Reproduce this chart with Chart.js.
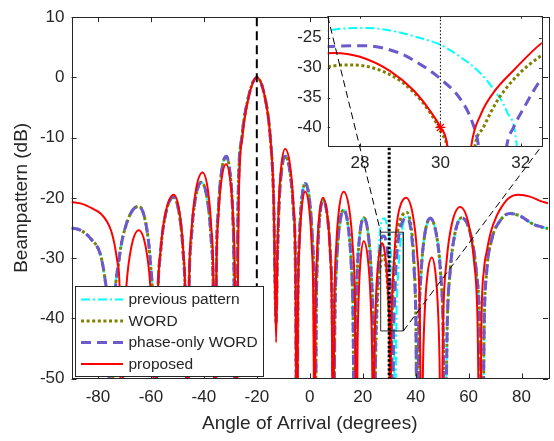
<!DOCTYPE html>
<html>
<head>
<meta charset="utf-8">
<script src="https://cdn.jsdelivr.net/npm/chart.js@4.4.1/dist/chart.umd.min.js"></script>
<style>
  html, body { margin: 0; padding: 0; background: #fff; }
  #wrap { position: relative; width: 554px; height: 441px; }
  #wrap canvas { position: absolute; left: 0; top: 0; }
</style>
</head>
<body>
<div id="wrap">
  <canvas id="mainChart" width="554" height="441"></canvas>
  <canvas id="insetChart" width="554" height="441"></canvas>
</div>
<script>
// ---- axis settings ----
const xTicks = [-80, -60, -40, -20, 0, 20, 40, 60, 80];
const yTicks = [10, 0, -10, -20, -30, -40, -50];
const insetXTicks = [28, 30, 32];
const insetYTicks = [-25, -30, -35, -40];
const insetAngRange = [27.196, 32.52];
const insetDbRange = [-43.1, -21.42];

const seriesLabels = ['previous pattern', 'WORD', 'phase-only WORD', 'proposed'];

// ---- proposed pattern (red) ----
const redAng = [
  -90, -86, -82, -79, -76.5, -75, -73.8, -72.6, -71.8, -71.2,
  -70.34, -69.22, -67.5, -64.6, -61.87, -60.26, -59.21, -58.4,
  -57.49, -56.3, -54.48, -51.4, -49.16, -47.83, -46.96, -46.3,
  -45.55, -44.56, -43.05, -40.5, -38.43, -37.21, -36.39, -35.8,
  -35.25, -34.54, -33.45, -31.6, -29.93, -28.94, -28.31, -27.8,
  -26.79, -25.46, -23.43, -20, -16.61, -14.89, -13.65, -12.7,
  -12.26, -11.68, -10.8, -9.3, -7.34, -6.19, -5.43, -4.85,
  -4.44, -3.905, -3.086, -1.7, -0.16, 0.75, 1.345, 1.8,
  2.22, 2.76, 3.59, 5.0, 6.67, 7.66, 8.31, 8.8,
  9.32, 10.0, 11.04, 12.8, 14.96, 16.23, 17.06, 17.7,
  18.05, 18.51, 19.21, 20.4, 21.98, 22.92, 23.53, 24.0,
  24.44, 25.02, 25.9, 27.35, 28.0, 28.75, 29.33, 29.75, 30.0, 30.17, 30.45,
  30.77, 31.0, 31.33, 31.83, 32.54, 33.3, 34.3, 35.3, 36.4, 39.0, 40.53, 41.53, 42.3,
  42.79, 43.44, 44.43, 46.1, 47.6, 48.48, 49.06, 49.5,
  50.45, 51.69, 53.59, 56.8, 60.1, 62.05, 63.33, 64.3,
  64.9, 65.8, 66.9, 68.5, 70.6, 72.5, 75.0, 78.8, 83.2, 87.0, 90
];
const redDb = [
  -20.7, -21.0, -21.8, -22.6, -24.0, -25.5, -27.6, -30.8, -35.5, -65,
  -43.4, -34.4, -28.4, -25.4, -28.4, -34.4, -43.4, -65,
  -37.5, -28.5, -22.5, -19.5, -22.5, -28.5, -37.5, -65,
  -33.8, -24.8, -18.8, -15.8, -18.8, -24.8, -33.8, -65,
  -32.4, -23.4, -17.4, -14.4, -17.4, -23.4, -32.4, -65,
  -20, -10, -4, 0, -4, -10, -20, -44,
  -29.9, -20.9, -14.9, -11.9, -14.9, -20.9, -29.9, -65,
  -37, -28, -22, -19, -22, -28, -37, -65,
  -38, -29, -23, -20, -23, -29, -38, -65,
  -37, -28, -22, -19, -22, -28, -37, -65,
  -45.2, -36.2, -30.2, -27.2, -30.2, -36.2, -45.2, -65,
  -45.6, -36.6, -30.6, -27.55, -28.2, -30.6, -33.8, -37.3, -40.0, -43, -65,
  -43, -37.9, -34.1, -30.4, -25.8, -23.0, -21.2, -20.3, -20.0, -23, -29, -38, -65,
  -47.9, -38.9, -32.9, -29.9, -32.9, -38.9, -47.9, -65,
  -39.5, -30.5, -24.5, -21.5, -24.5, -30.5, -39.5, -65,
  -40, -32, -28.8, -25.5, -23.0, -21.5, -20.1, -19.5, -19.8, -20.5, -20.9
];

// ---- the three earlier patterns share most lobes ----
const groupAngLeft = [
  -90, -86.5, -82.7, -78.9, -77.0, -76.0, -75.3,
  -73.91, -72.09, -69.31, -64.6, -61.87, -60.26, -59.21, -58.4,
  -57.5, -56.33, -54.54, -51.5, -49.21, -47.86, -46.98, -46.3,
  -45.6, -44.68, -43.28, -40.9, -38.66, -37.33, -36.46, -35.8,
  -35.25, -34.54, -33.45, -31.6, -30.06, -29.15, -28.65, -28.1,
  -27.05, -25.67, -23.56, -20, -16.61, -14.89, -13.65, -12.7,
  -12.26, -11.68, -10.8, -9.3, -7.34, -6.19, -5.43, -4.85,
  -4.44, -3.905, -3.086, -1.7, -0.03, 0.96, 1.61, 2.1,
  2.48, 2.97, 3.72, 5.0, 6.76, 7.8, 8.48, 9.0,
  9.49, 10.14, 11.13, 12.8, 14.6, 15.67, 16.37, 16.9,
  17.36, 17.95, 18.86, 20.4, 22.16, 23.2, 23.88, 24.4
];
const groupDbLeft = [
  -25.0, -25.4, -26.8, -29.7, -34.5, -40, -65,
  -39.4, -30.4, -24.4, -21.4, -24.4, -30.4, -39.4, -65,
  -37.9, -28.9, -22.9, -19.9, -22.9, -28.9, -37.9, -65,
  -35.4, -26.4, -20.4, -17.4, -20.4, -26.4, -35.4, -65,
  -31.1, -22.1, -16.1, -13.1, -16.1, -22.1, -31.1, -65,
  -20, -10, -4, 0, -4, -10, -20, -40.8,
  -31.1, -22.1, -16.1, -13.1, -16.1, -22.1, -31.1, -65,
  -35.6, -26.6, -20.6, -17.6, -20.6, -26.6, -35.6, -65,
  -38.4, -29.4, -23.4, -20.4, -23.4, -29.4, -38.4, -65,
  -40, -31, -25, -22, -25, -31, -40, -65,
  -41.3, -32.3, -26.3, -23.3, -26.3, -32.3, -41.3, -65
];
const groupAngRight = [
  40.6, 41.24, 42.07, 43.34, 45.5, 47.96, 49.42, 50.37, 51.1,
  51.93, 53.02, 54.68, 57.4, 60.88, 62.93, 64.27, 65.3,
  65.9, 66.8, 68.7, 71.9, 75.6, 79.4, 84.5, 90
];
const groupDbRight = [
  -65, -41.4, -32.4, -26.4, -23.4, -26.4, -32.4, -41.4, -65,
  -41.3, -32.3, -26.3, -23.3, -26.3, -32.3, -41.3, -65,
  -41, -32.5, -27.0, -23.8, -22.6, -23.0, -24.4, -25.1
];

// ---- where they differ (around the 30 degree null) ----
const prevAngMid = [24.89, 25.53, 26.51, 27.2, 28.17, 28.75, 29.33, 30.0, 30.49, 30.99, 31.32, 31.65, 31.9, 32.1,
  32.71, 33.51, 34.73, 36.8, 38.47, 39.46, 40.11];
const prevDbMid = [-41.4, -32.4, -25.8, -23.83, -23.4, -23.8, -24.75, -26.2, -28.2, -30.9, -33.6, -37.3, -43.1, -65,
  -40.9, -31.9, -25.9, -22.9, -25.9, -31.9, -40.9];

const wordAngMid = [24.85, 25.43, 26.32, 27.2, 27.83, 28.75, 29.33, 29.75, 30.04, 30.16, 30.5,
  30.86, 31.07, 31.4, 31.82, 32.52, 33.6, 35.0, 36.6, 38.47, 39.46, 40.11];
const wordDbMid = [-47.6, -38.6, -32.6, -29.9, -29.56, -31.2, -34.1, -37.6, -41.1, -43.1, -65,
  -43.1, -40, -35.7, -32, -27.96, -24.6, -22.9, -22.4, -25.4, -31.4, -40.4];

const phaseAngMid = [24.88, 25.5, 26.46, 27.2, 28.08, 28.91, 29.58, 30.0, 30.49, 30.78, 30.95, 31.3,
  31.65, 31.82, 32.07, 32.52, 33.5, 34.8, 36.8, 38.47, 39.46, 40.11];
const phaseDbMid = [-44.35, -35.35, -29.35, -26.5, -26.35, -27.4, -29.8, -31.9, -35.2, -38.9, -43.1, -65,
  -43.1, -40, -36.8, -31.9, -26.8, -24.2, -23.3, -26.3, -32.3, -41.3];

// ---- reference lines, zoom box, marker ----
const desiredAng = [-20];
const nullAng = [30];
const zoomBoxAng = [26.8, 35.35];
const zoomBoxDb = [-42.1, -25.7];
const markAng = [30];
const markDb = [-40];

const FONT = "'Liberation Sans', Arial, Helvetica, sans-serif";
const INK = '#262626';

const styles = [
  { color: '#00ffff', width: 2, dash: [9, 3, 2, 3] },
  { color: '#808000', width: 3, dash: [3, 2.6] },
  { color: '#6a5acd', width: 3, dash: [10, 6] },
  { color: '#ff0000', width: 2, dash: [] }
];

function toPoints(xs, ys) {
  return xs.map((x, i) => ({ x: x, y: ys[i] }));
}

const curveData = [
  toPoints(groupAngLeft.concat(prevAngMid, groupAngRight), groupDbLeft.concat(prevDbMid, groupDbRight)),
  toPoints(groupAngLeft.concat(wordAngMid, groupAngRight), groupDbLeft.concat(wordDbMid, groupDbRight)),
  toPoints(groupAngLeft.concat(phaseAngMid, groupAngRight), groupDbLeft.concat(phaseDbMid, groupDbRight)),
  toPoints(redAng, redDb)
];

function curveDatasets() {
  // first dataset in the list is drawn on top, so proposed goes first
  const out = [];
  for (let i = curveData.length - 1; i >= 0; i--) {
    out.push({
      label: seriesLabels[i],
      data: curveData[i],
      borderColor: styles[i].color,
      borderWidth: styles[i].width,
      borderDash: styles[i].dash,
      borderCapStyle: 'butt',
      cubicInterpolationMode: 'monotone',
      pointRadius: 0,
      fill: false
    });
  }
  return out;
}

function vline(x, range, dash, width) {
  return {
    data: [{ x: x, y: range[1] }, { x: x, y: range[0] }],
    borderColor: '#000', borderWidth: width, borderDash: dash,
    pointRadius: 0, tension: 0, fill: false
  };
}

// inward tick marks and box, MATLAB style
function frame(chart, xt, yt, len) {
  const { ctx, chartArea: a, scales } = chart;
  ctx.save();
  ctx.strokeStyle = INK;
  ctx.lineWidth = 1;
  ctx.setLineDash([]);
  ctx.beginPath();
  xt.forEach(v => {
    const px = Math.round(scales.x.getPixelForValue(v)) + 0.5;
    ctx.moveTo(px, a.bottom); ctx.lineTo(px, a.bottom - len);
    ctx.moveTo(px, a.top); ctx.lineTo(px, a.top + len);
  });
  yt.forEach(v => {
    const py = Math.round(scales.y.getPixelForValue(v)) + 0.5;
    ctx.moveTo(a.left, py); ctx.lineTo(a.left + len, py);
    ctx.moveTo(a.right, py); ctx.lineTo(a.right - len, py);
  });
  ctx.stroke();
  ctx.strokeRect(Math.round(a.left) + 0.5, Math.round(a.top) + 0.5,
    Math.round(a.right - a.left), Math.round(a.bottom - a.top));
  ctx.restore();
}

const mainFrame = {
  id: 'mainFrame',
  afterDatasetsDraw(chart) { frame(chart, xTicks, yTicks, 5); },
  afterDraw(chart) {
    // legend box
    const ctx = chart.ctx;
    ctx.save();
    ctx.fillStyle = '#fff';
    ctx.fillRect(75.5, 286.5, 188, 90);
    ctx.strokeStyle = INK;
    ctx.lineWidth = 1;
    ctx.strokeRect(75.5, 286.5, 188, 90);
    seriesLabels.forEach((lab, i) => {
      const y = 299.5 + i * 21.5;
      ctx.beginPath();
      ctx.setLineDash(styles[i].dash);
      ctx.lineWidth = styles[i].width;
      ctx.strokeStyle = styles[i].color;
      ctx.moveTo(81, y);
      ctx.lineTo(123, y);
      ctx.stroke();
      ctx.setLineDash([]);
      ctx.fillStyle = INK;
      ctx.font = '15.5px ' + FONT;
      ctx.textBaseline = 'middle';
      ctx.fillText(lab, 128.5, y + 0.5);
    });
    ctx.restore();
  }
};

const yRange = [yTicks[yTicks.length - 1], yTicks[0]];

const mainChart = new Chart(document.getElementById('mainChart'), {
  type: 'line',
  data: {
    datasets: [
      vline(desiredAng[0], yRange, [9, 5], 2),
      vline(nullAng[0], yRange, [2.5, 2], 3),
      {
        data: toPoints(
          [zoomBoxAng[0], zoomBoxAng[1], zoomBoxAng[1], zoomBoxAng[0], zoomBoxAng[0]],
          [zoomBoxDb[1], zoomBoxDb[1], zoomBoxDb[0], zoomBoxDb[0], zoomBoxDb[1]]),
        borderColor: INK, borderWidth: 1, pointRadius: 0, tension: 0, fill: false
      }
    ].concat(curveDatasets())
  },
  options: {
    responsive: false,
    animation: false,
    layout: { padding: { left: 0, right: 6, top: 6.5, bottom: 0 } },
    plugins: { legend: { display: false }, tooltip: { enabled: false } },
    scales: {
      x: {
        type: 'linear', min: -90, max: 90,
        afterBuildTicks: s => { s.ticks = xTicks.map(v => ({ value: v })); },
        afterFit: s => { s.height = 62.5; },
        grid: { display: false, drawTicks: false },
        border: { display: false },
        ticks: { font: { family: FONT, size: 17 }, color: INK, padding: 9, maxRotation: 0, autoSkip: false },
        title: { display: true, text: 'Angle of Arrival (degrees)', font: { family: FONT, size: 19 }, color: INK,
          padding: { top: 0, bottom: 5.5 } }
      },
      y: {
        type: 'linear', min: yRange[0], max: yRange[1],
        afterBuildTicks: s => { s.ticks = yTicks.map(v => ({ value: v })); },
        afterFit: s => { s.width = 71.5; },
        grid: { display: false, drawTicks: false },
        border: { display: false },
        ticks: { font: { family: FONT, size: 17 }, color: INK, padding: 7, autoSkip: false },
        title: { display: true, text: 'Beampattern (dB)', font: { family: FONT, size: 19 }, color: INK,
          padding: { top: 10.5, bottom: 0 } }
      }
    }
  },
  plugins: [mainFrame]
});

// ---- inset ----
const insetFrame = {
  id: 'insetFrame',
  beforeDraw(chart) {
    const { ctx, chartArea: a } = chart;
    ctx.save();
    ctx.fillStyle = '#fff';
    ctx.fillRect(a.left, a.top, a.right - a.left, a.bottom - a.top);
    ctx.restore();
  },
  afterDatasetsDraw(chart) {
    frame(chart, insetXTicks, insetYTicks, 2.5);
    // connector lines from the zoom box to the inset corners
    const a = chart.chartArea;
    const mx = mainChart.scales.x, my = mainChart.scales.y;
    const ctx = chart.ctx;
    ctx.save();
    ctx.strokeStyle = '#000';
    ctx.lineWidth = 1;
    ctx.setLineDash([7, 4]);
    ctx.beginPath();
    ctx.moveTo(a.left, a.top);
    ctx.lineTo(mx.getPixelForValue(zoomBoxAng[0]), my.getPixelForValue(zoomBoxDb[1]));
    ctx.moveTo(mx.getPixelForValue(zoomBoxAng[1]), my.getPixelForValue(zoomBoxDb[0]));
    ctx.lineTo(a.right, a.bottom);
    ctx.stroke();
    ctx.restore();
  }
};

new Chart(document.getElementById('insetChart'), {
  type: 'line',
  data: {
    datasets: [
      {
        data: toPoints(markAng, markDb),
        showLine: false, pointStyle: 'star', pointRadius: 5,
        borderColor: '#ff0000', backgroundColor: '#ff0000', borderWidth: 1.3
      },
      vline(nullAng[0], insetDbRange, [1.5, 2], 1)
    ].concat(curveDatasets())
  },
  options: {
    responsive: false,
    animation: false,
    layout: { padding: { left: 288, right: 12.3, top: 11, bottom: 265 } },
    plugins: { legend: { display: false }, tooltip: { enabled: false } },
    scales: {
      x: {
        type: 'linear', min: insetAngRange[0], max: insetAngRange[1],
        afterBuildTicks: s => { s.ticks = insetXTicks.map(v => ({ value: v })); },
        afterFit: s => { s.height = 30; },
        grid: { display: false, drawTicks: false },
        border: { display: false },
        ticks: { font: { family: FONT, size: 17 }, color: INK, padding: 7, maxRotation: 0, autoSkip: false }
      },
      y: {
        type: 'linear', min: insetDbRange[0], max: insetDbRange[1],
        afterBuildTicks: s => { s.ticks = insetYTicks.map(v => ({ value: v })); },
        afterFit: s => { s.width = 39.7; },
        grid: { display: false, drawTicks: false },
        border: { display: false },
        ticks: { font: { family: FONT, size: 17 }, color: INK, padding: 6, autoSkip: false }
      }
    }
  },
  plugins: [insetFrame]
});
</script>
</body>
</html>
